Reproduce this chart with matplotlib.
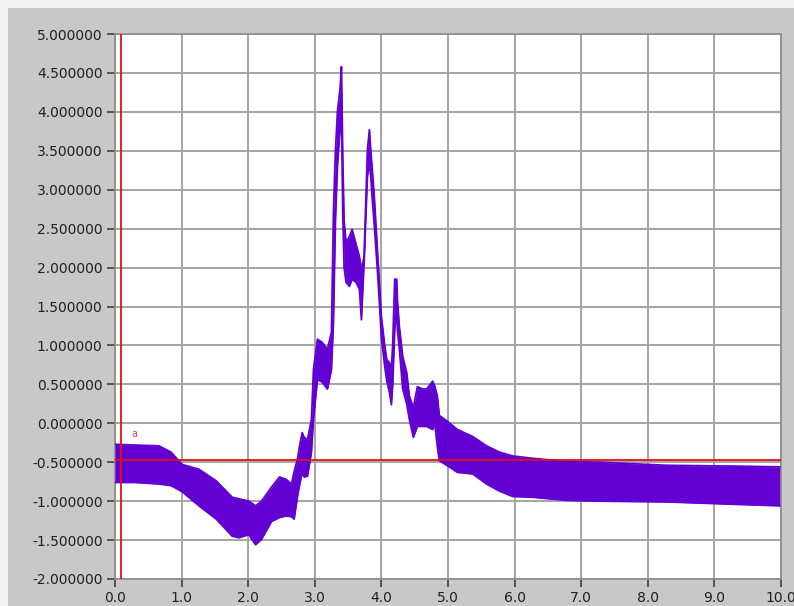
import matplotlib.pyplot as plt
from matplotlib.patches import Rectangle
from matplotlib.ticker import MultipleLocator, FormatStrFormatter

# envelope of the recorded signal: time, upper edge, lower edge
t = [0.00, 0.30, 0.66, 0.84, 1.01, 1.26, 1.52, 1.76, 1.86, 2.01, 2.11, 2.20,
     2.35, 2.47, 2.57, 2.65, 2.69, 2.74, 2.77, 2.81, 2.84, 2.89, 2.95, 2.98,
     3.04, 3.11, 3.19, 3.25, 3.28, 3.31, 3.34, 3.38, 3.40, 3.42, 3.44, 3.47,
     3.52, 3.56, 3.62, 3.67, 3.70, 3.74, 3.79, 3.82, 3.84, 3.86, 3.89, 3.94,
     3.97, 4.00, 4.05, 4.08, 4.12, 4.15, 4.17, 4.20, 4.23, 4.24, 4.27, 4.32,
     4.38, 4.42, 4.48, 4.54, 4.62, 4.68, 4.77, 4.80, 4.84, 4.87, 5.00, 5.14,
     5.37, 5.58, 5.77, 5.97, 6.27, 6.78, 7.28, 8.29, 9.28, 9.98]
upper = [-0.27, -0.28, -0.29, -0.37, -0.53, -0.59, -0.74, -0.95, -0.97, -1.00, -1.06, -1.00,
         -0.82, -0.69, -0.72, -0.78, -0.62, -0.46, -0.30, -0.12, -0.18, -0.21, 0.05, 0.69,
         1.08, 1.04, 0.95, 1.17, 2.70, 3.50, 4.00, 4.30, 4.58, 3.40, 2.60, 2.32,
         2.40, 2.49, 2.30, 2.14, 1.97, 2.14, 3.51, 3.77, 3.51, 3.29, 2.96, 2.23,
         1.81, 1.37, 1.00, 0.82, 0.78, 0.70, 1.01, 1.85, 1.85, 1.59, 1.24, 0.86,
         0.65, 0.35, 0.20, 0.47, 0.44, 0.44, 0.54, 0.48, 0.35, 0.10, 0.02, -0.08,
         -0.17, -0.29, -0.37, -0.42, -0.45, -0.49, -0.50, -0.54, -0.55, -0.56]
lower = [-0.76, -0.76, -0.78, -0.80, -0.88, -1.06, -1.23, -1.45, -1.47, -1.43, -1.56, -1.49,
         -1.26, -1.21, -1.19, -1.20, -1.23, -0.94, -0.80, -0.63, -0.69, -0.68, -0.37, 0.05,
         0.56, 0.53, 0.44, 0.69, 1.30, 2.60, 3.30, 3.80, 4.00, 2.70, 2.00, 1.81,
         1.76, 1.85, 1.81, 1.72, 1.33, 2.06, 3.17, 3.35, 3.17, 2.91, 2.58, 1.97,
         1.55, 1.10, 0.73, 0.55, 0.40, 0.24, 0.50, 1.20, 1.50, 1.20, 0.95, 0.44,
         0.25, 0.05, -0.18, -0.04, -0.04, -0.04, -0.08, 0.01, -0.30, -0.48, -0.55, -0.63,
         -0.65, -0.78, -0.87, -0.94, -0.95, -0.99, -1.00, -1.01, -1.04, -1.06]

# cursor position
cursor_x = 0.09
cursor_y = -0.47

fig = plt.figure(figsize=(7.94, 6.06), dpi=100, facecolor='#f2f2f2')
fig.patches.append(Rectangle((8 / 794, 0), 1, 1 - 8 / 606, transform=fig.transFigure,
                             facecolor='#c8c8c8', edgecolor='none', zorder=-10))

ax = fig.add_axes([115 / 794, 1 - 579 / 606, (781 - 115) / 794, (579 - 34) / 606])
ax.set_zorder(5)
ax.set_facecolor('white')

purple = '#6200d4'
ax.fill_between(t, lower, upper, color=purple, linewidth=0, zorder=3)
ax.plot(t, upper, color=purple, lw=1.3, zorder=3)
ax.plot(t, lower, color=purple, lw=1.3, zorder=3)

ax.axvline(cursor_x, color='#e01010', lw=1.3, zorder=4)
ax.axhline(cursor_y, color='#e01010', lw=1.3, zorder=4)
ax.text(0.24, -0.17, 'a', color='#c04848', fontsize=7, zorder=5)

ax.set_xlim(0, 10)
ax.set_ylim(-2, 5)
ax.xaxis.set_major_locator(MultipleLocator(1.0))
ax.yaxis.set_major_locator(MultipleLocator(0.5))
ax.xaxis.set_major_formatter(FormatStrFormatter('%.1f'))
ax.yaxis.set_major_formatter(FormatStrFormatter('%.6f'))
ax.grid(True, color='#a4a4a4', lw=1.4, zorder=1)
ax.set_axisbelow(True)
ax.tick_params(direction='out', length=6, width=1.2, color='#404040',
               labelsize=10, labelcolor='#202020', pad=3)
for s in ax.spines.values():
    s.set_color('#8c8c8c')
    s.set_linewidth(1.2)

fig.savefig('out.png', dpi=100, facecolor=fig.get_facecolor())
